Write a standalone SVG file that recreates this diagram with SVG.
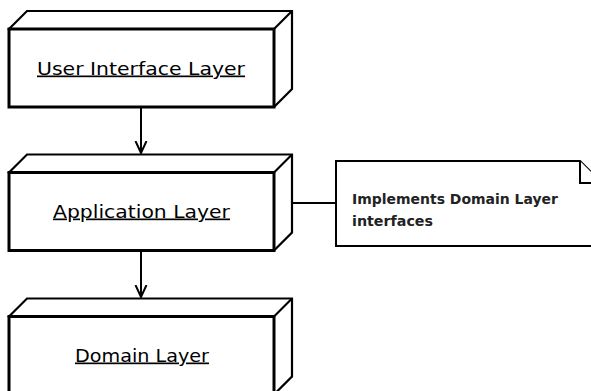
<svg xmlns="http://www.w3.org/2000/svg" width="591" height="391" viewBox="0 0 591 391">
<style>
.node{fill:#fff;stroke:#000;stroke-width:3;stroke-linejoin:miter}
.top{fill:#fff;stroke:#000;stroke-width:2.2}
.lbl{font-family:"DejaVu Sans",sans-serif;font-size:17px;text-decoration:underline;text-anchor:start;fill:#000}
.note{fill:#fff;stroke:#000;stroke-width:2}
.ntxt{font-family:"DejaVu Sans",sans-serif;font-size:14px;font-weight:bold;fill:#222}
.conn{stroke:#000;stroke-width:2;fill:none}
</style>
<defs>
<marker id="open" viewBox="0 0 14 16" refX="12" refY="8" markerWidth="14" markerHeight="16" markerUnits="userSpaceOnUse" orient="auto">
<path d="M0,2.5 L12,8 L0,13.5" fill="none" stroke="#000" stroke-width="2"/>
</marker>
</defs>
<rect width="591" height="391" fill="#fff"/>
<g id="connectors">
<line class="conn" x1="141" y1="107" x2="141" y2="153" marker-end="url(#open)"/>
<line class="conn" x1="141" y1="250.5" x2="141" y2="297" marker-end="url(#open)"/>
<line class="conn" x1="292" y1="203" x2="336" y2="203"/>
</g>
<g id="ui">
<path class="top" d="M9,29 L27,11 L292,11 L292,89 L274,107 Z"/>
<path class="top" d="M274,29 L292,11"/>
<rect class="node" x="9" y="29" width="265" height="78"/>
<text class="lbl" x="37" y="74.5" textLength="208" lengthAdjust="spacingAndGlyphs">User Interface Layer</text>
</g>
<g id="app">
<path class="top" d="M9,172.5 L27,154.5 L292,154.5 L292,232.5 L274,250.5 Z"/>
<path class="top" d="M274,172.5 L292,154.5"/>
<rect class="node" x="9" y="172.5" width="265" height="78"/>
<text class="lbl" x="53" y="217.5" textLength="177" lengthAdjust="spacingAndGlyphs">Application Layer</text>
</g>
<g id="domain">
<path class="top" d="M9,316.5 L27,298.5 L292,298.5 L292,376.5 L274,394.5 Z"/>
<path class="top" d="M274,316.5 L292,298.5"/>
<rect class="node" x="9" y="316.5" width="265" height="78"/>
<text class="lbl" x="75" y="361.5" textLength="134" lengthAdjust="spacingAndGlyphs">Domain Layer</text>
</g>
<g id="note">
<path class="note" d="M336,161 L580,161 L602,183 L602,246 L336,246 Z"/>
<path class="note" d="M580,161 L580,183 L602,183"/>
<text class="ntxt" x="352" y="203.5" textLength="206" lengthAdjust="spacingAndGlyphs">Implements Domain Layer</text>
<text class="ntxt" x="352" y="225.5" textLength="81" lengthAdjust="spacingAndGlyphs">interfaces</text>
</g>
</svg>
